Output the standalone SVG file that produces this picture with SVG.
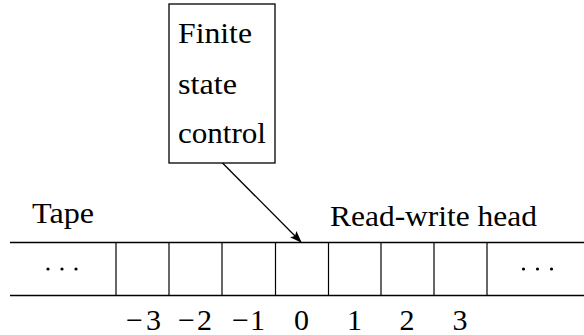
<svg xmlns="http://www.w3.org/2000/svg" width="584" height="335" viewBox="0 0 584 335">
  <style>
    .edge { stroke: #000; stroke-width: 1.3; fill: none; }
    .cell { stroke: #000; stroke-width: 1.2; fill: none; }
    .dot { fill: #000; }
    text { font-family: "Liberation Serif", "DejaVu Serif", "Times New Roman", serif; font-size: 29px; fill: #000; }
    .idx { font-size: 30px; text-anchor: middle; }
  </style>
  <defs>
    <marker id="arrowhead" viewBox="0 0 12 10" refX="11" refY="5" markerWidth="12" markerHeight="10" markerUnits="userSpaceOnUse" orient="auto">
      <path d="M0,0.5 L12,5 L0,9.5 L2.5,5 Z" fill="#000"/>
    </marker>
  </defs>

  <!-- Finite state control box -->
  <g id="control">
    <rect class="edge" x="169" y="4" width="106" height="159"/>
    <text x="178" y="43" textLength="74" lengthAdjust="spacingAndGlyphs">Finite</text>
    <text x="178" y="93.5" textLength="59" lengthAdjust="spacingAndGlyphs">state</text>
    <text x="178" y="143" textLength="88" lengthAdjust="spacingAndGlyphs">control</text>
  </g>

  <!-- Tape: two rails with cell dividers -->
  <g id="tape">
    <line class="edge" x1="10" y1="242.5" x2="584" y2="242.5"/>
    <line class="edge" x1="10" y1="295.5" x2="584" y2="295.5"/>
    <line class="cell" x1="116" y1="242.5" x2="116" y2="295.5"/>
    <line class="cell" x1="169" y1="242.5" x2="169" y2="295.5"/>
    <line class="cell" x1="222" y1="242.5" x2="222" y2="295.5"/>
    <line class="cell" x1="275.5" y1="242.5" x2="275.5" y2="295.5"/>
    <line class="cell" x1="328.5" y1="242.5" x2="328.5" y2="295.5"/>
    <line class="cell" x1="381" y1="242.5" x2="381" y2="295.5"/>
    <line class="cell" x1="434" y1="242.5" x2="434" y2="295.5"/>
    <line class="cell" x1="487" y1="242.5" x2="487" y2="295.5"/>
    <!-- ellipses at both open ends -->
    <circle class="dot" cx="48" cy="269" r="1.6"/>
    <circle class="dot" cx="62" cy="269" r="1.6"/>
    <circle class="dot" cx="76" cy="269" r="1.6"/>
    <circle class="dot" cx="523.5" cy="269" r="1.6"/>
    <circle class="dot" cx="537.5" cy="269" r="1.6"/>
    <circle class="dot" cx="551.5" cy="269" r="1.6"/>
  </g>

  <g id="tape-label">
    <text x="32" y="223" textLength="62" lengthAdjust="spacingAndGlyphs">Tape</text>
  </g>
  <g id="head-label">
    <text x="330" y="225.5" textLength="207" lengthAdjust="spacingAndGlyphs">Read-write head</text>
  </g>

  <!-- Cell indices -->
  <g id="indices">
    <text class="idx" x="143.5" y="330" textLength="35" lengthAdjust="spacing">−3</text>
    <text class="idx" x="195" y="330" textLength="34" lengthAdjust="spacing">−2</text>
    <text class="idx" x="248.5" y="330" textLength="33" lengthAdjust="spacing">−1</text>
    <text class="idx" x="301.5" y="330">0</text>
    <text class="idx" x="354.5" y="330">1</text>
    <text class="idx" x="407" y="330">2</text>
    <text class="idx" x="460" y="330">3</text>
  </g>

  <!-- Connectors -->
  <g id="connectors">
    <line class="edge" x1="222.5" y1="163" x2="301" y2="242" marker-end="url(#arrowhead)"/>
  </g>
</svg>
